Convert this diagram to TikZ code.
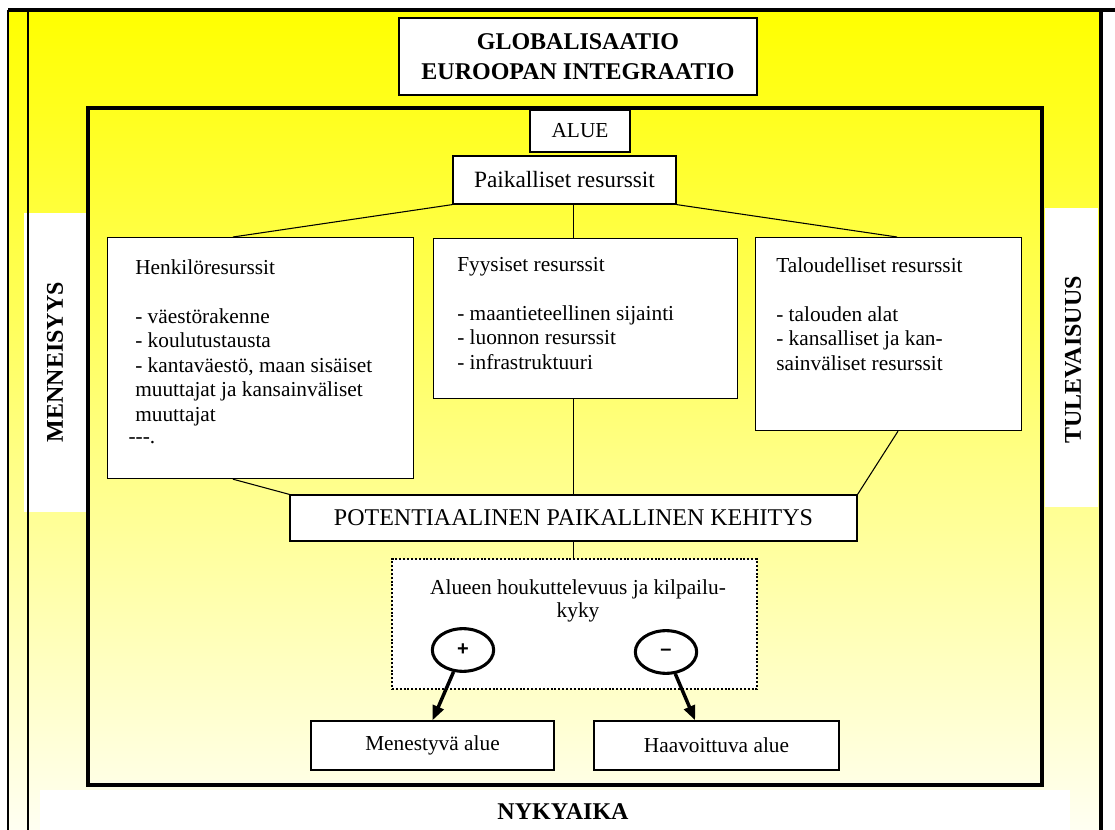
\documentclass[tikz,border=0pt]{standalone}
\usepackage{fontspec}
\setmainfont{Liberation Serif}
\setsansfont{Liberation Sans}
\usepackage{xcolor}
\usepackage{tikz}
\usetikzlibrary{shapes,arrows.meta,positioning,calc}

\definecolor{bgtop}{RGB}{255,255,0}
\definecolor{bgbottom}{RGB}{255,255,242}

\tikzset{
    box/.style={draw, fill=white, line width=0.9pt, inner sep=0pt},
    boxtext/.style={anchor=north west, align=left, inner sep=0pt, font=\fontsize{16}{18.4}\selectfont},
    frame/.style={line width=2.3pt},
    link/.style={line width=0.8pt},
    sign/.style={ellipse, draw, fill=white, line width=2.3pt, minimum width=46pt, minimum height=32pt, inner sep=0pt, font=\sffamily\bfseries\fontsize{15}{15}\selectfont},
    outcome/.style={-{Triangle[length=11pt,width=8.5pt]}, line width=2.6pt},
    bigcaps/.style={font=\bfseries\fontsize{18}{22.5}\selectfont}
}

\begin{document}
\begin{tikzpicture}[x=0.75pt, y=-0.75pt]
    \useasboundingbox (0,0) rectangle (1115,830);

    % Background and time bands
    \shade[top color=bgtop, bottom color=bgbottom] (8,10) rectangle (1101,830);
    \fill[white] (24,213) rectangle (86,512);
    \fill[white] (1045,208) rectangle (1098,507);
    \fill[white] (40,790) rectangle (1070,830);

    % Frames
    \draw[frame] (8,10) -- (1115,10);
    \draw[line width=1.1pt] (8,10) -- (8,830);
    \draw[line width=1.6pt] (28,10) -- (28,830);
    \draw[frame] (1101,10) -- (1101,830);
    \draw[frame] (88,108) rectangle (1042,785);

    \node[bigcaps, rotate=90] (past) at (55,362) {MENNEISYYS};
    \node[bigcaps, rotate=90] (future) at (1073,360) {TULEVAISUUS};
    \node[bigcaps] (now) at (563,812) {NYKYAIKA};

    % Top boxes
    \node[box, bigcaps, align=center, minimum width=268.5pt, minimum height=57.75pt] (glob) at (578,56.5) {GLOBALISAATIO\\EUROOPAN INTEGRAATIO};
    \node[box, minimum width=75pt, minimum height=31.5pt, font=\fontsize{16}{18}\selectfont] (alue) at (580,131) {ALUE};
    \node[box, minimum width=167.25pt, minimum height=36pt, font=\fontsize{17.5}{20}\selectfont] (paik) at (564.5,180) {Paikalliset resurssit};

    % Resource boxes
    \node[box, anchor=north west, minimum width=229.5pt, minimum height=180.75pt] (henk) at (107,237) {};
    \node[box, anchor=north west, minimum width=228pt, minimum height=120pt] (fyy) at (433,238) {};
    \node[box, anchor=north west, minimum width=199.5pt, minimum height=144.75pt] (talo) at (755,237) {};

    \node[boxtext] (henktxt) at (135,259) {Henkilöresurssit\\[18.4pt]- väestörakenne\\- koulutustausta\\- kantaväestö, maan sisäiset\\muuttajat ja kansainväliset\\muuttajat\\[-2pt]\hspace*{-5pt}-{}-{}-.};
    \node[boxtext] (fyytxt) at (457,257) {Fyysiset resurssit\\[18.4pt]- maantieteellinen sijainti\\- luonnon resurssit\\- infrastruktuuri};
    \node[boxtext] (talotxt) at (776,257) {Taloudelliset resurssit\\[18.4pt]- talouden alat\\- kansalliset ja kan-\\sainväliset resurssit};

    % Development
    \node[box, minimum width=425.25pt, minimum height=34.5pt, font=\fontsize{18}{20}\selectfont] (pot) at (573.5,518) {POTENTIAALINEN PAIKALLINEN KEHITYS};
    \node[draw, fill=white, line width=1.8pt, dash pattern=on 1.5pt off 1.4pt, minimum width=273.75pt, minimum height=97.5pt] (houk) at (574.5,624) {};
    \node[anchor=north, align=center, inner sep=0pt, font=\fontsize{16}{17.3}\selectfont] (houktxt) at (578,579.5) {Alueen houkuttelevuus ja kilpailu-\\kyky};

    \node[sign] (plus) at (463,650) {+};
    \node[sign] (minus) at (666,652) {--};

    \node[box, minimum width=182.25pt, minimum height=36.75pt, font=\fontsize{16}{18}\selectfont] (men) at (432.5,745.5) {Menestyvä alue};
    \node[box, minimum width=183.75pt, minimum height=36.75pt, font=\fontsize{16}{18}\selectfont] (haav) at (716.5,745.5) {Haavoittuva alue};

    % Connectors
    \draw[link] (paik.south west) -- ([xshift=94.5pt]henk.north west);
    \draw[link] (paik.south -| pot.north) -- (fyy.north -| pot.north);
    \draw[link] (paik.south east) -- ([xshift=106.5pt]talo.north west);
    \draw[link] ([xshift=94.5pt]henk.south west) -- (pot.north west);
    \draw[link] (fyy.south -| pot.north) -- (pot.north);
    \draw[link] ([xshift=107.25pt]talo.south west) -- (pot.north east);
    \draw[link] (pot.south) -- (houk.north -| pot.south);

    \draw[outcome] (plus) -- (men.north);
    \draw[outcome] (minus) -- ([xshift=-16pt]haav.north);
\end{tikzpicture}
\end{document}
